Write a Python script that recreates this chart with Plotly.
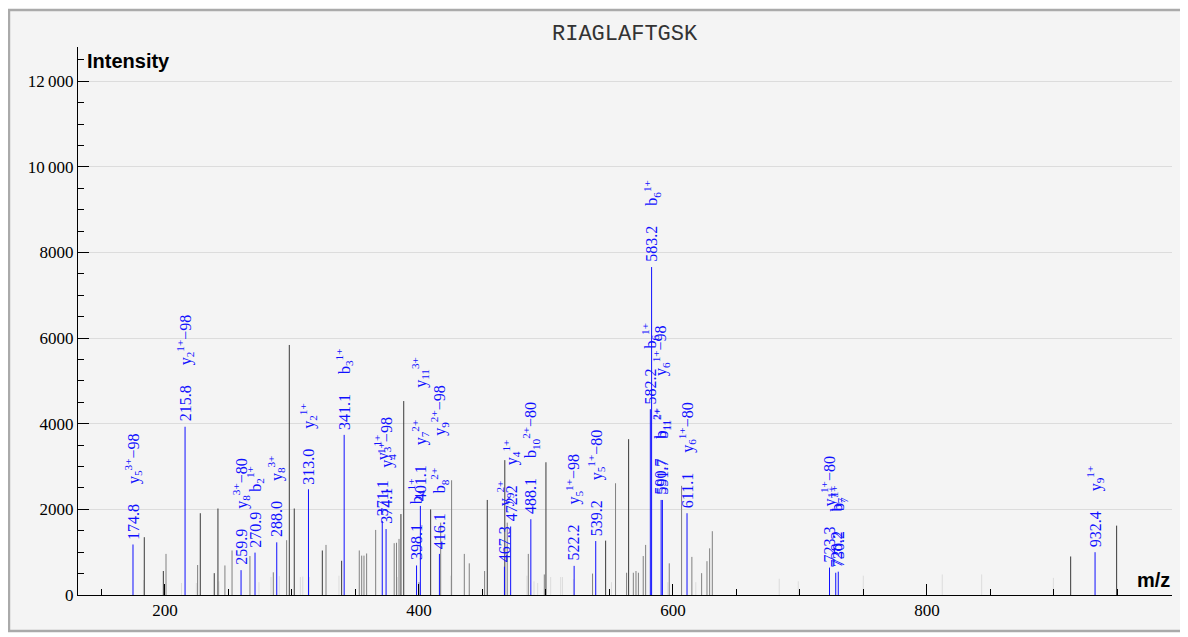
import plotly.graph_objects as go

TITLE = "RIAGLAFTGSK"

# annotated (matched) peaks
ion_mz = [174.8, 215.8, 259.9, 270.9, 288.0, 313.0, 341.1, 371.1, 374.1, 398.1,
          401.1, 416.1, 467.3, 472.2, 488.1, 522.2, 539.2, 582.2, 583.2, 590.7,
          591.7, 611.1, 723.3, 728.2, 730.2, 932.4]
ion_int = [1180, 3930, 580, 990, 1230, 2470, 3740, 1730, 1540, 690,
           2080, 960, 660, 1600, 1770, 680, 1260, 4340, 7660, 2220,
           2220, 1910, 640, 520, 545, 1000]
ion_names = [
    [("y", "5", "3+", "−98")],
    [("y", "2", "1+", "−98")],
    [("y", "8", "3+", "−80")],
    [("b", "2", "1+", "")],
    [("y", "8", "3+", "")],
    [("y", "2", "1+", "")],
    [("b", "3", "1+", "")],
    [("y", "3", "1+", "")],
    [("y", "4", "1+", "−98")],
    [("b", "4", "1+", "")],
    [("y", "7", "2+", ""), ("y", "11", "3+", "")],
    [("b", "8", "2+", ""), ("y", "9", "2+", "−98")],
    [("y", "9", "2+", "")],
    [("y", "4", "1+", "")],
    [("b", "10", "2+", "−80")],
    [("y", "5", "1+", "−98")],
    [("y", "5", "1+", "−80")],
    [("b", "6", "1+", "")],
    [("b", "6", "1+", "")],
    [("b", "11", "2+", ""), ("y", "6", "1+", "−98")],
    [("b", "11", "2+", "")],
    [("y", "6", "1+", "−80")],
    [("y", "7", "1+", "−80")],
    [("b", "7", "1+", "")],
    [("b", "7", "1+", "")],
    [("y", "9", "1+", "")],
]

# unmatched peaks, grouped by shade
dark_mz = [183.7, 198.7, 227.8, 238.8, 241.7, 297.9, 301.8, 323.9, 339.1, 385.8,
           388.0, 409.2, 453.8, 467.6, 500.0, 547.0, 565.1, 913.2, 949.4]
dark_int = [1350, 560, 1910, 510, 2020, 5840, 2020, 1040, 800, 1890,
            4530, 2000, 2220, 3150, 3100, 1270, 3640, 900, 1620]

mid_mz = [200.8, 225.7, 247.2, 252.8, 266.9, 285.3, 295.8, 326.8, 353.0, 354.9,
          356.7, 358.8, 365.9, 380.5, 382.3, 384.3, 400.0, 417.1, 425.7, 435.7,
          439.6, 451.7, 469.5, 486.1, 498.7, 536.7, 554.8, 563.5, 568.8, 570.9,
          572.8, 576.6, 578.5, 597.1, 606.8, 614.9, 622.6, 626.8, 628.9, 631.0]
mid_int = [960, 700, 690, 1040, 910, 530, 1280, 1170, 1040, 920,
           920, 970, 1520, 1210, 1220, 1310, 300, 1690, 2680, 960,
           740, 560, 1690, 960, 480, 500, 2610, 520, 520, 560,
           520, 910, 1170, 740, 2550, 890, 510, 790, 1090, 1490]

light_mz = [183.0, 213.0, 224.7, 242.5, 274.0, 283.5, 290.0, 306.6, 308.5, 313.7,
            337.0, 383.0, 425.0, 485.0, 490.6, 493.5, 503.7, 511.6, 513.0, 521.6,
            551.6, 596.0, 618.0, 683.7, 698.7, 749.9, 812.1, 843.1, 899.6]
light_int = [350, 280, 280, 320, 300, 420, 440, 420, 430, 420,
             450, 420, 450, 450, 320, 280, 420, 420, 420, 370,
             300, 300, 300, 380, 320, 450, 480, 480, 400]

BLUE = "#1010ff"
SERIF = "Liberation Serif, Times New Roman, serif"


def sticks(mz, inten):
    xs, ys = [], []
    for m, h in zip(mz, inten):
        xs += [m, m, None]
        ys += [0, h, None]
    return xs, ys


def ion_html(s, i, c, loss):
    return f"{s}<sub>{i}</sub><sup>{c}</sup>{loss}"


fig = go.Figure()
for mz, inten, col in [(light_mz, light_int, "#dcdcdc"),
                       (mid_mz, mid_int, "#808080"),
                       (dark_mz, dark_int, "#3a3a3a"),
                       (ion_mz, ion_int, BLUE)]:
    xs, ys = sticks(mz, inten)
    fig.add_trace(go.Scatter(x=xs, y=ys, mode="lines",
                             line=dict(color=col, width=1),
                             hoverinfo="skip", showlegend=False))

for m, h, names in zip(ion_mz, ion_int, ion_names):
    label = f"{m:.1f}" + "\u2003\u2005" + "\u2003\u2003".join(ion_html(*n) for n in names)
    fig.add_annotation(x=m, y=h, text=label, textangle=-90, showarrow=False,
                       xanchor="center", yanchor="bottom", yshift=3,
                       font=dict(family=SERIF, size=16, color=BLUE))

fig.add_annotation(x=0.5, y=1.0235, xref="paper", yref="paper", text=TITLE,
                   showarrow=False, xanchor="center", yanchor="middle",
                   font=dict(family="Liberation Mono, Courier New, monospace", size=22, color="#333"))
fig.add_annotation(x=0.006, y=0.975, xref="paper", yref="paper", text="<b>Intensity</b>",
                   showarrow=False, xanchor="left", yanchor="middle",
                   font=dict(family="Liberation Sans, Arial, sans-serif", size=20, color="black"))
fig.add_annotation(x=1.0, y=0.028, xref="paper", yref="paper", text="<b>m/z</b>",
                   showarrow=False, xanchor="right", yanchor="middle",
                   font=dict(family="Liberation Sans, Arial, sans-serif", size=20, color="black"))

# panel background and border
fig.add_shape(type="rect", xref="paper", yref="paper",
              x0=-0.0631, x1=1.0101, y0=-0.0657, y1=1.0675,
              fillcolor="#f4f4f4", line=dict(color="#aaaaaa", width=2.5), layer="below")

fig.update_xaxes(range=[131.5, 993], showgrid=False, zeroline=False,
                 showline=True, linecolor="black", linewidth=1,
                 tickmode="linear", tick0=0, dtick=200,
                 ticks="inside", ticklen=11, tickcolor="black",
                 minor=dict(dtick=50, ticks="inside", ticklen=6, tickcolor="black", showgrid=False),
                 tickfont=dict(family=SERIF, size=17, color="black"))
fig.update_yaxes(range=[0, 12800], showgrid=True, gridcolor="#dcdcdc", gridwidth=1,
                 zeroline=False, showline=True, linecolor="black", linewidth=1,
                 tickmode="linear", tick0=0, dtick=2000, exponentformat="none",
                 ticks="inside", ticklen=11, tickcolor="black",
                 minor=dict(dtick=500, ticks="inside", ticklen=6, tickcolor="black", showgrid=False),
                 tickfont=dict(family=SERIF, size=17, color="black"))

fig.update_layout(width=1180, height=629,
                  margin=dict(l=70, r=16, t=39, b=42),
                  paper_bgcolor="white", plot_bgcolor="rgba(0,0,0,0)",
                  separators=".\u2009", showlegend=False)

fig.write_html("out.html")
